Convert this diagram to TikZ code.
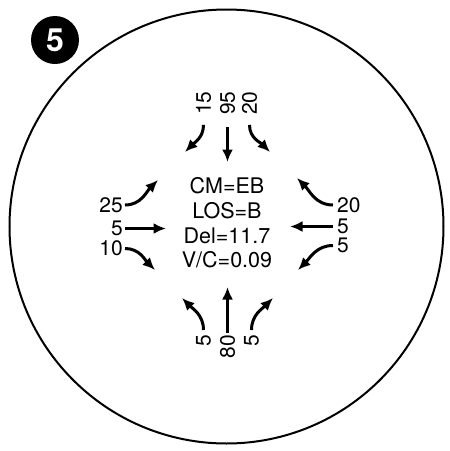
\documentclass[tikz,border=0pt]{standalone}
\usepackage{fontspec}
\setmainfont{TeX Gyre Heros}
\usetikzlibrary{arrows.meta}

\begin{document}
\begin{tikzpicture}[
      x=1pt,y=1pt,
      >={Latex[length=12.5pt,width=11pt]},
      flow/.style={->,line width=3pt},
      vol/.style={inner sep=0pt,font=\fontsize{21}{21}\selectfont},
      volup/.style={vol,rotate=90},
      stat/.style={inner sep=0pt,anchor=base,font=\fontsize{21.5}{21.5}\selectfont}
    ]
    \path[use as bounding box] (0,0) rectangle (450,-451);
    \draw[line width=2pt] (226.5,-226.5) circle[radius=217];
    \node[circle,fill=black,minimum size=48pt,inner sep=0pt,text=white,
      font=\bfseries\fontsize{32}{32}\selectfont] (badge) at (55,-40) {5};

    % intersection results
    \node[stat] (cm) at (227,-193) {CM=EB};
    \node[stat] (los) at (227,-218) {LOS=B};
    \node[stat] (del) at (227,-243) {Del=11.7};
    \node[stat] (vc) at (227,-267) {V/C=0.09};

    % approach volumes
    \node[volup] (n15) at (203.5,-103) {15};
    \node[volup] (n95) at (227.5,-103) {95};
    \node[volup] (n20) at (249.5,-103) {20};
    \node[volup,anchor=east] (s5a) at (203.5,-335) {5};
    \node[volup,anchor=east] (s80) at (227.5,-335) {80};
    \node[volup,anchor=east] (s5b) at (251.5,-335) {5};
    \node[vol,anchor=east] (w25) at (123,-205) {25};
    \node[vol,anchor=east] (w5) at (123,-228.5) {5};
    \node[vol,anchor=east] (w10) at (123,-248.5) {10};
    \node[vol,anchor=west] (e20) at (337,-205) {20};
    \node[vol,anchor=west] (e5a) at (337,-226.5) {5};
    \node[vol,anchor=west] (e5b) at (337,-245.5) {5};

    \coordinate (nL) at (185,-152);
    \coordinate (nT) at (227.5,-162);
    \coordinate (nR) at (270,-152);
    \coordinate (sL) at (182,-298);
    \coordinate (sT) at (227.5,-287);
    \coordinate (sR) at (273,-298);
    \coordinate (wU) at (158,-180);
    \coordinate (wM) at (166,-228.5);
    \coordinate (wD) at (155,-270);
    \coordinate (eU) at (297,-178);
    \coordinate (eM) at (290,-226.5);
    \coordinate (eD) at (298,-270);

    % movements
    \draw[flow] ([yshift=-10pt]n15.west) to[out=-90,in=45] (nL);
    \draw[flow] ([yshift=-12pt]n95.west) -- (nT);
    \draw[flow] ([yshift=-10pt]n20.west) to[out=-90,in=135] (nR);
    \draw[flow] ([yshift=5pt]s5a.east) to[out=90,in=-45] (sL);
    \draw[flow] ([yshift=2pt]s80.east) -- (sT);
    \draw[flow] ([yshift=5pt]s5b.east) to[out=90,in=-135] (sR);
    \draw[flow] ([xshift=2pt]w25.east) to[out=0,in=-135] (wU);
    \draw[flow] ([xshift=2pt]w5.east) -- (wM);
    \draw[flow] ([xshift=2pt]w10.east) to[out=0,in=135] (wD);
    \draw[flow] ([xshift=-4pt]e20.west) to[out=180,in=-45] (eU);
    \draw[flow] ([xshift=-4pt]e5a.west) -- (eM);
    \draw[flow] ([xshift=-4pt]e5b.west) to[out=180,in=45] (eD);
  \end{tikzpicture}
\end{document}
